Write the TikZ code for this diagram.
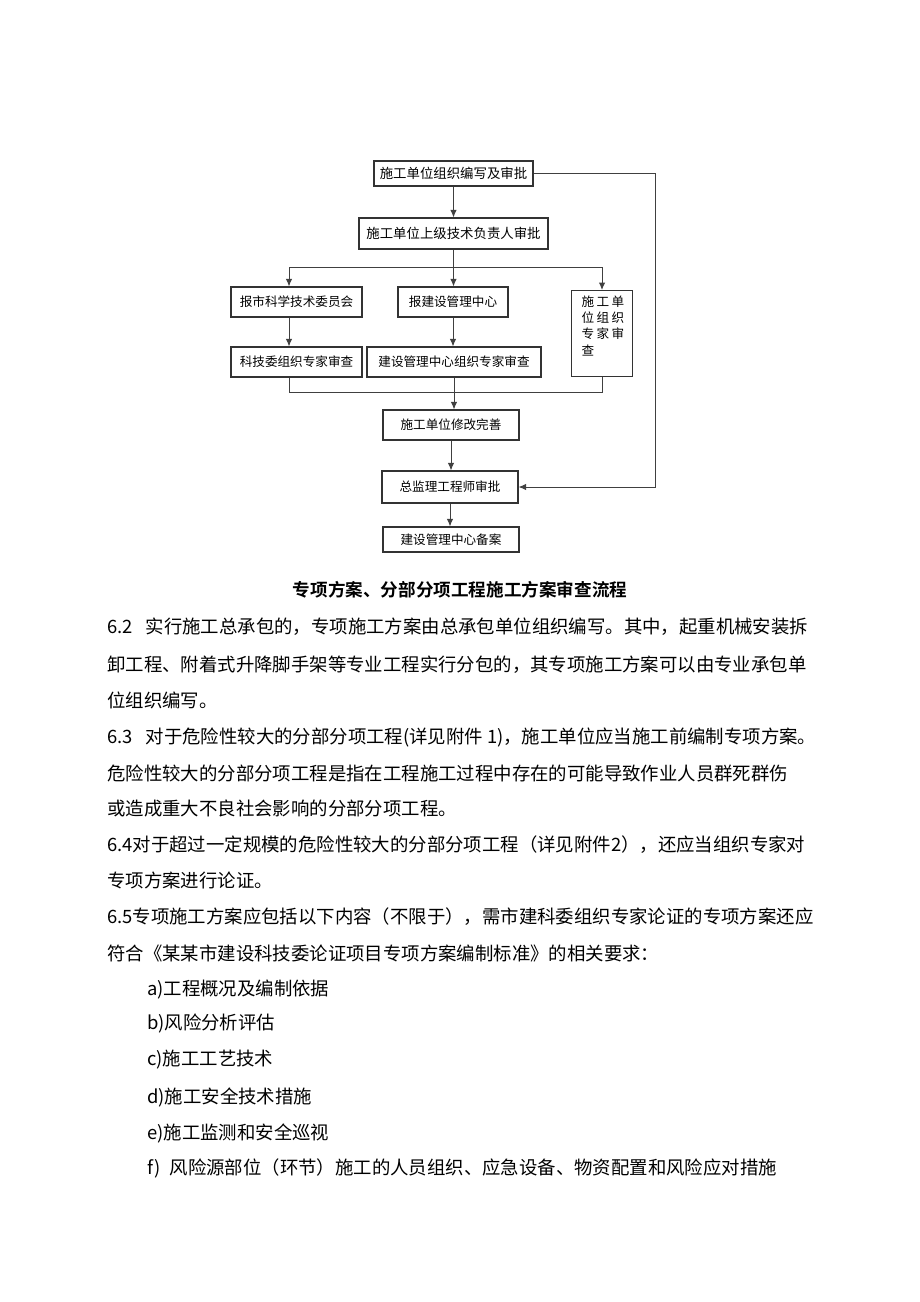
\documentclass[tikz,border=0pt]{standalone}
\usepackage{fontspec}
\usepackage{tikz}
\usetikzlibrary{arrows.meta,positioning,calc}
\newfontfamily\cjk{Noto Sans CJK SC}[BoldFont={Noto Sans CJK SC Bold}]

\begin{document}
\begin{tikzpicture}[x=1pt,y=-1pt,
  box/.style={draw=black!80,line width=1.1pt,inner sep=0pt,align=center,
    font=\cjk\fontsize{12.6}{14}\selectfont},
  link/.style={draw=black!75,line width=1pt},
  flow/.style={link,-{Latex[length=7.5pt,width=6.5pt]}},
  body/.style={anchor=west,inner sep=0pt,font=\cjk\fontsize{18.4}{20}\selectfont}]
  \useasboundingbox[fill=white] (0,0) rectangle (920,1302);
  % flow chart boxes
  \node[box,minimum width=159,minimum height=25,font=\cjk\fontsize{13.4}{14}\selectfont] (bz) at (453.5,173.5) {施工单位组织编写及审批};
  \node[box,minimum width=189,minimum height=31,font=\cjk\fontsize{13.4}{14}\selectfont] (sj) at (453.5,233.5) {施工单位上级技术负责人审批};
  \node[box,minimum width=131,minimum height=30] (kw) at (296.5,302) {报市科学技术委员会};
  \node[box,minimum width=110,minimum height=30] (jg) at (453,302) {报建设管理中心};
  \node[box,minimum width=61,minimum height=86,align=left,anchor=north west,
        font=\cjk\fontsize{12.6}{16.4}\selectfont,inner sep=0pt] (zj) at (571,290)
        {\parbox[t][86pt][t]{61pt}{\vspace{5pt}\hspace{10pt}施\hspace{2.4pt}工\hspace{2.4pt}单\\
         \hspace*{10pt}位\hspace{2.4pt}组\hspace{2.4pt}织\\
         \hspace*{10pt}专\hspace{2.4pt}家\hspace{2.4pt}审\\
         \hspace*{10pt}查}};
  \node[box,minimum width=131,minimum height=30] (kwsc) at (296.5,362) {科技委组织专家审查};
  \node[box,minimum width=174,minimum height=30] (jgsc) at (454,362) {建设管理中心组织专家审查};
  \node[box,minimum width=136,minimum height=30] (xg) at (451,425) {施工单位修改完善};
  \node[box,minimum width=136,minimum height=32] (zjl) at (450,487) {总监理工程师审批};
  \node[box,minimum width=136,minimum height=25] (ba) at (451,539.5) {建设管理中心备案};
  % branch and merge points
  \coordinate (brL) at (289,267);
  \coordinate (brR) at (602,267);
  \coordinate (mgL) at (289,392);
  \coordinate (mgR) at (602,392);
  \coordinate (fbx) at (655,0);
  % connectors
  \draw[flow] (bz.south -| sj.north) -- (sj.north);
  \draw[flow] (sj.south) -- (sj.south |- jg.north);
  \draw[link] (brL) -- (brR);
  \draw[flow] (brL) -- (brL |- kw.north);
  \draw[flow] (brR) -- (brR |- zj.north);
  \draw[flow] (brL |- kw.south) -- (brL |- kwsc.north);
  \draw[flow] (jg.south) -- (jg.south |- jgsc.north);
  \draw[link] (mgL |- kwsc.south) -- (mgL) -- (mgR) -- (mgR |- zj.south);
  \draw[flow] (jgsc.south) -- (jgsc.south |- xg.north);
  \draw[flow] (xg.south) -- (xg.south |- zjl.north);
  \draw[flow] (zjl.south) -- (zjl.south |- ba.north);
  \draw[flow] (bz.east) -- (bz.east -| fbx) -- (fbx |- zjl.east) -- (zjl.east);
  % caption
  \node[inner sep=0pt,font=\cjk\bfseries\fontsize{17.6}{20}\selectfont] (cap) at (460,590) {专项方案、分部分项工程施工方案审查流程};
  % body text
  \node[body] (t1) at (107,627) {6.2\hspace{0.7em}实行施工总承包的，专项施工方案由总承包单位组织编写。其中，起重机械安装拆};
  \node[body] (t2) at (107,665) {卸工程、附着式升降脚手架等专业工程实行分包的，其专项施工方案可以由专业承包单};
  \node[body] (t3) at (107,700) {位组织编写。};
  \node[body] (t4) at (107,737) {6.3\hspace{0.7em}对于危险性较大的分部分项工程(详见附件 1)，施工单位应当施工前编制专项方案。};
  \node[body] (t5) at (107,773) {危险性较大的分部分项工程是指在工程施工过程中存在的可能导致作业人员群死群伤};
  \node[body] (t6) at (107,808) {或造成重大不良社会影响的分部分项工程。};
  \node[body] (t7) at (107,845) {6.4对于超过一定规模的危险性较大的分部分项工程（详见附件2），还应当组织专家对};
  \node[body] (t8) at (107,880) {专项方案进行论证。};
  \node[body] (t9) at (107,917) {6.5专项施工方案应包括以下内容（不限于），需市建科委组织专家论证的专项方案还应};
  \node[body] (t10) at (107,953) {符合《某某市建设科技委论证项目专项方案编制标准》的相关要求：};
  \node[body] (la) at (147,990) {a)工程概况及编制依据};
  \node[body] (lb) at (147,1023) {b)风险分析评估};
  \node[body] (lc) at (147,1060) {c)施工工艺技术};
  \node[body] (ld) at (147,1097) {d)施工安全技术措施};
  \node[body] (le) at (147,1133) {e)施工监测和安全巡视};
  \node[body] (lf) at (147,1168) {f)\hspace{0.5em}风险源部位（环节）施工的人员组织、应急设备、物资配置和风险应对措施};
\end{tikzpicture}
\end{document}
